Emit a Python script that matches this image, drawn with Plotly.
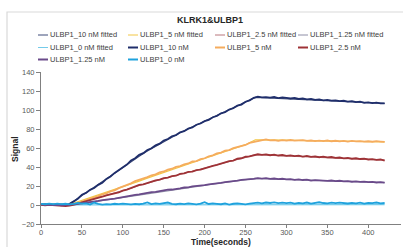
import plotly.graph_objects as go

# ---------------- data ----------------
TIME_MEAS = [0, 5, 10, 15, 20, 25, 30, 35, 40, 45, 50, 55, 60, 65, 70, 75, 80, 85, 90, 95,
             100, 105, 110, 115, 120, 125, 130, 135, 140, 145, 150, 155, 160, 165, 170, 175, 180, 185, 190, 195,
             200, 205, 210, 215, 220, 225, 230, 235, 240, 245, 250, 255, 260, 265, 270, 275, 280, 285, 290, 295,
             300, 305, 310, 315, 320, 325, 330, 335, 340, 345, 350, 355, 360, 365, 370, 375, 380, 385, 390, 395,
             400, 405, 410, 415, 420]

MEAS_10 = [0.4, 0.8, 0.2, 0.6, 0.1, 0.5, -0.2, 1.2, 3.8, 6.6, 10.8, 12.7, 15.9, 17.8, 21.2, 23.3, 27.4, 30.1, 33.8, 36.6,
           40.3, 42.6, 46.9, 49.2, 52.8, 54.6, 57.9, 59.7, 62.8, 64.6, 67.9, 69.5, 72.4, 73.6, 76.5, 77.7, 80.4, 81.6, 84.5, 85.8,
           88.3, 89.6, 92.4, 93.7, 96.5, 97.6, 100.4, 101.8, 104.6, 105.7, 108.7, 110.2, 112.8, 114.1, 113.2, 113.6, 113.1, 113.7, 112.6, 113.2,
           112.8, 112.1, 112.7, 111.6, 112.2, 111.3, 111.8, 110.6, 111.2, 110.1, 110.7, 109.8, 110.2, 109.3, 109.7, 108.9, 109.4, 108.3, 108.8, 107.6,
           108.1, 107.2, 107.8, 106.9, 107.0]
MEAS_5 = [0.6, 0.2, 0.7, 0.3, 0.5, 0.0, 0.4, 0.1, 0.8, 2.2, 3.3, 5.2, 6.3, 8.2, 9.3, 11.2, 12.3, 14.3, 15.4, 17.8,
          19.2, 21.3, 22.8, 25.2, 26.3, 28.2, 29.3, 31.3, 32.2, 34.3, 35.3, 37.2, 38.2, 40.2, 40.9, 42.8, 43.7, 45.8, 46.3, 48.3,
          49.2, 51.3, 52.2, 54.3, 55.2, 57.2, 57.8, 59.8, 60.7, 62.3, 63.2, 65.3, 66.2, 67.6, 67.9, 69.0, 68.1, 68.3, 67.6, 68.2,
          67.8, 68.4, 67.7, 67.9, 68.3, 67.5, 67.9, 67.2, 67.8, 67.3, 67.9, 67.1, 67.6, 67.0, 67.5, 66.8, 67.4, 66.9, 67.3, 66.7,
          67.1, 66.6, 67.2, 66.8, 66.5]
MEAS_2_5 = [0.2, -0.3, 0.1, -0.4, -0.2, -0.9, -1.1, -0.7, 0.1, 1.3, 2.7, 3.8, 5.2, 6.3, 7.8, 8.7, 10.2, 10.9, 12.3, 13.2,
            15.2, 16.3, 18.2, 19.3, 21.2, 21.8, 23.3, 24.2, 25.8, 26.7, 28.3, 28.8, 30.3, 30.8, 32.7, 33.2, 34.8, 35.2, 36.8, 37.2,
            38.8, 39.7, 41.3, 42.2, 43.8, 44.7, 46.3, 46.8, 48.7, 49.2, 50.8, 51.3, 52.7, 53.4, 52.8, 53.3, 52.4, 53.0, 52.1, 52.6,
            51.8, 52.3, 51.5, 51.9, 51.0, 51.6, 50.7, 51.2, 50.3, 50.9, 50.1, 50.5, 49.6, 50.0, 49.1, 49.5, 48.7, 49.2, 48.4, 48.7,
            47.9, 48.3, 47.6, 47.9, 46.8]
MEAS_1_25 = [0.3, 0.0, 0.4, -0.1, 0.2, -0.4, -0.2, 0.2, 0.4, 1.2, 1.6, 2.4, 2.8, 3.9, 4.3, 5.2, 5.4, 6.3, 6.8, 7.7,
             8.1, 9.2, 9.6, 10.7, 11.1, 12.2, 12.5, 13.6, 13.8, 14.8, 15.1, 16.1, 16.3, 17.3, 17.5, 18.4, 18.6, 19.6, 19.8, 20.7,
             20.9, 21.8, 22.1, 22.9, 23.3, 24.1, 24.4, 25.3, 25.6, 26.4, 26.6, 27.4, 27.6, 28.3, 27.8, 28.2, 27.5, 27.9, 27.2, 27.6,
             26.9, 27.3, 26.5, 27.0, 26.3, 26.7, 25.6, 26.2, 25.9, 26.1, 25.4, 25.8, 25.1, 25.5, 24.8, 25.2, 24.5, 24.9, 24.3, 24.6,
             24.1, 24.4, 23.7, 24.0, 23.5]
MEAS_0 = [1.2, 0.8, 1.4, 1.0, 1.5, 0.9, 1.3, 0.7, 1.2, 2.1, 1.4, 1.8, 0.6, 2.6, 1.1, 0.4, 1.0, 0.7, 1.3, 0.9,
          1.5, 1.1, 0.6, 1.2, 0.8, 1.4, 2.8, 1.0, 1.6, 1.1, 1.7, 2.6, 1.2, 0.8, 1.5, 1.0, 1.8, 1.3, 0.7, 1.4,
          2.9, 1.1, 1.7, 1.2, 0.8, 1.6, 0.5, 1.3, 1.8, 1.2, 0.6, 1.4, 1.9, 2.4, 1.8, 2.6, 2.1, 2.7, 1.9, 2.4,
          2.0, 2.5, 1.4, 2.2, 1.8, 2.6, 1.5, 2.3, 2.9, 2.1, 1.7, 2.4, 1.9, 2.5, 2.0, 1.6, 2.3, 1.8, 2.4, 1.5,
          2.2, 1.9, 2.6, 1.7, 2.1]

TIME_FIT = [33, 40, 50, 60, 70, 80, 90, 100, 110, 120, 130, 140, 150, 160, 170, 180, 190, 200, 210, 220,
            230, 240, 250, 262, 270, 280, 290, 300, 310, 320, 330, 340, 350, 360, 370, 380, 390, 400, 410, 420]
FIT_10 = [0.0, 4.0, 10.4, 16.0, 21.5, 27.3, 33.3, 39.5, 45.6, 51.4, 56.8, 61.8, 66.8, 71.6, 76.0, 80.2, 84.3, 88.3, 92.2, 96.1,
          100.0, 104.0, 108.2, 113.3, 113.0, 112.6, 112.2, 111.8, 111.4, 111.0, 110.6, 110.2, 109.8, 109.4, 109.0, 108.6, 108.2, 107.8, 107.4, 107.0]
FIT_5 = [0.0, 1.8, 4.8, 7.7, 10.6, 13.4, 16.2, 19.0, 22.0, 25.2, 28.3, 31.4, 34.4, 37.4, 40.3, 43.2, 46.1, 49.0, 51.9, 54.8,
         57.7, 60.6, 63.5, 68.6, 68.7, 68.6, 68.4, 68.3, 68.1, 68.0, 67.8, 67.7, 67.5, 67.4, 67.2, 67.1, 66.9, 66.8, 66.6, 66.5]
FIT_2_5 = [0.0, 0.6, 3.0, 5.4, 7.8, 10.1, 12.4, 14.7, 17.6, 20.5, 23.0, 25.5, 28.0, 30.2, 32.4, 34.5, 36.6, 38.7, 41.0, 43.3,
           45.6, 47.9, 50.2, 53.0, 52.8, 52.4, 52.0, 51.6, 51.2, 50.8, 50.4, 50.0, 49.6, 49.3, 48.9, 48.6, 48.2, 47.9, 47.6, 47.3]
FIT_1_25 = [0.0, 0.3, 1.5, 2.8, 4.1, 5.4, 6.7, 8.0, 9.4, 10.9, 12.3, 13.6, 14.9, 16.2, 17.4, 18.6, 19.8, 21.0, 22.2, 23.3,
            24.4, 25.5, 26.6, 28.0, 27.8, 27.5, 27.2, 26.9, 26.6, 26.3, 26.0, 25.7, 25.4, 25.1, 24.8, 24.5, 24.3, 24.0, 23.8, 23.6]
FIT_0 = [0.2, 0.2, 0.2, 0.2, 0.2, 0.2, 0.2, 0.2, 0.2, 0.2, 0.3, 0.3, 0.3, 0.3, 0.3, 0.3, 0.3, 0.3, 0.3, 0.3,
         0.3, 0.3, 0.3, 0.3, 0.3, 0.3, 0.3, 0.3, 0.3, 0.3, 0.3, 0.3, 0.3, 0.3, 0.3, 0.3, 0.3, 0.3, 0.3, 0.3]

FIT_NAMES = ["ULBP1_10 nM fitted", "ULBP1_5 nM fitted", "ULBP1_2.5 nM fitted",
             "ULBP1_1.25 nM fitted", "ULBP1_0 nM fitted"]
MEAS_NAMES = ["ULBP1_10 nM", "ULBP1_5 nM", "ULBP1_2.5 nM", "ULBP1_1.25 nM", "ULBP1_0 nM"]
FIT_SERIES = [FIT_10, FIT_5, FIT_2_5, FIT_1_25, FIT_0]
MEAS_SERIES = [MEAS_10, MEAS_5, MEAS_2_5, MEAS_1_25, MEAS_0]

X_TICKS = [0, 50, 100, 150, 200, 250, 300, 350, 400]
Y_TICKS = [-20, 0, 20, 40, 60, 80, 100, 120, 140]
TITLE = "KLRK1&amp;ULBP1"
X_TITLE = "Time(seconds)"
Y_TITLE = "Signal"

# ---------------- styles ----------------
FIT_COLORS = ["#3D4B78", "#F2C744", "#B8767C", "#8E8EA6", "#74CBEA"]
MEAS_COLORS = ["#1F2E6B", "#F5AC5E", "#9E3236", "#6A4A8A", "#1FA2DD"]
FONT = "Liberation Sans, Arial, sans-serif"

W, H = 403, 247
ML, MR, MT, MB = 41, 2, 72, 23
PW, PH = W - ML - MR, H - MT - MB


def px_x(px):
    return (px - ML) / PW


def px_y(py):
    return (H - MB - py) / PH


fig = go.Figure()
for name, ys, col in zip(FIT_NAMES, FIT_SERIES, FIT_COLORS):
    fig.add_trace(go.Scatter(x=TIME_FIT, y=ys, mode="lines", name=name,
                             line=dict(color=col, width=1.2), showlegend=False))
for name, ys, col in zip(MEAS_NAMES, MEAS_SERIES, MEAS_COLORS):
    fig.add_trace(go.Scatter(x=TIME_MEAS, y=ys, mode="lines", name=name,
                             line=dict(color=col, width=1.8), showlegend=False))

shapes = []
annotations = []

# outer chart frame
shapes.append(dict(type="rect", xref="paper", yref="paper",
                   x0=px_x(7), x1=px_x(420), y0=px_y(265), y1=px_y(12),
                   line=dict(color="#D9D9D9", width=1.2), layer="below"))

# legend (Excel-like layout: columns of uneven width)
col_x = [38, 128, 215, 298]
row_y = [35, 47.5, 59.5]
entries = [(n, c, 1.0) for n, c in zip(FIT_NAMES, FIT_COLORS)] + \
          [(n, c, 2.0) for n, c in zip(MEAS_NAMES, MEAS_COLORS)]
for i, (name, col, lw) in enumerate(entries):
    r, c = divmod(i, 4)
    x0 = col_x[c]
    y = row_y[r]
    shapes.append(dict(type="line", xref="paper", yref="paper",
                       x0=px_x(x0), x1=px_x(x0 + 10), y0=px_y(y), y1=px_y(y),
                       line=dict(color=col, width=lw)))
    annotations.append(dict(xref="paper", yref="paper", x=px_x(x0 + 10), y=px_y(y),
                            text=name, showarrow=False, xanchor="left", yanchor="middle",
                            font=dict(family=FONT, size=7.5, color="#404040")))

# axis titles
annotations.append(dict(xref="paper", yref="paper", x=px_x(221), y=px_y(242.3),
                        text="<b>" + X_TITLE + "</b>", showarrow=False,
                        xanchor="center", yanchor="middle",
                        font=dict(family=FONT, size=8.5, color="#262626")))
annotations.append(dict(xref="paper", yref="paper", x=px_x(15), y=px_y(149),
                        text="<b>" + Y_TITLE + "</b>", showarrow=False, textangle=-90,
                        xanchor="center", yanchor="middle",
                        font=dict(family=FONT, size=8.5, color="#262626")))

fig.update_layout(
    width=W, height=H,
    margin=dict(l=ML, r=MR, t=MT, b=MB, pad=0),
    paper_bgcolor="white", plot_bgcolor="white",
    showlegend=False,
    title=dict(text="<b>" + TITLE + "</b>", x=210 / W, xref="container", xanchor="center",
               y=1 - 20 / H, yref="container", yanchor="middle",
               font=dict(family=FONT, size=9, color="#262626")),
    xaxis=dict(range=[0, 440], tickvals=X_TICKS, ticks="outside", ticklen=3,
               tickcolor="#808080", showline=True, linecolor="#808080", linewidth=1,
               showgrid=False, zeroline=False, ticklabelstandoff=-2,
               tickfont=dict(family=FONT, size=7.5, color="#595959"),
               automargin=False),
    yaxis=dict(range=[-20, 140], tickvals=Y_TICKS, ticks="outside", ticklen=4,
               tickcolor="#808080", showline=True, linecolor="#808080", linewidth=1,
               showgrid=False, zeroline=False,
               tickfont=dict(family=FONT, size=7.5, color="#595959"),
               automargin=False),
    shapes=shapes,
    annotations=annotations,
)

fig.write_html("out.html", config={"displayModeBar": False},
               post_script="document.body.style.margin='0px';document.body.style.overflow='hidden';")
